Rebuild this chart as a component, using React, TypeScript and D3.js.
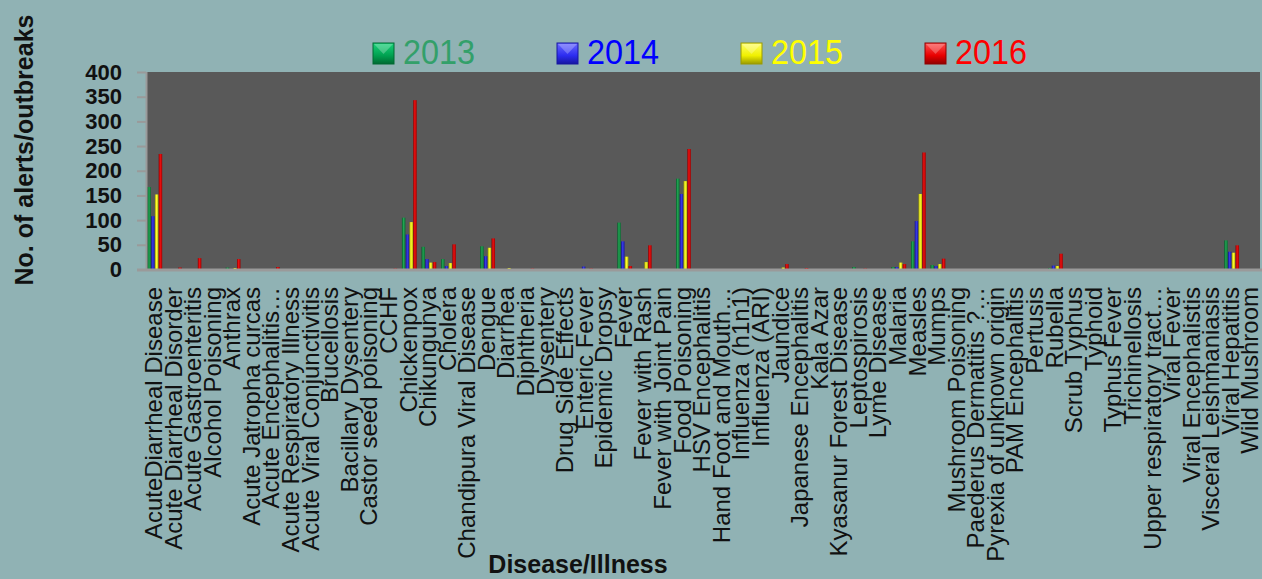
import React, { useEffect, useRef } from "react";
import * as d3 from "d3";

const categories: string[] = [
  "AcuteDiarrheal Disease",
  "Acute Diarrheal Disorder",
  "Acute Gastroenteritis",
  "Alcohol Poisoning",
  "Anthrax",
  "Acute Jatropha curcas",
  "Acute Encephalitis…",
  "Acute Respiratory Illness",
  "Acute Viral Conjunctivitis",
  "Brucellosis",
  "Bacillary Dysentery",
  "Castor seed poisoning",
  "CCHF",
  "Chickenpox",
  "Chikungunya",
  "Cholera",
  "Chandipura Viral Disease",
  "Dengue",
  "Diarrhea",
  "Diphtheria",
  "Dysentery",
  "Drug Side Effects",
  "Enteric Fever",
  "Epidemic Dropsy",
  "Fever",
  "Fever with Rash",
  "Fever  with Joint Pain",
  "Food Poisoning",
  "HSV Encephalitis",
  "Hand Foot and Mouth…",
  "Influenza (h1n1)",
  "Influenza (ARI)",
  "Jaundice",
  "Japanese Encephalitis",
  "Kala Azar",
  "Kyasanur Forest Disease",
  "Leptospirosis",
  "Lyme Disease",
  "Malaria",
  "Measles",
  "Mumps",
  "Mushroom Poisoning",
  "Paederus Dermatitis ?…",
  "Pyrexia of unknown origin",
  "PAM Encephalitis",
  "Pertusis",
  "Rubella",
  "Scrub Typhus",
  "Typhoid",
  "Typhus Fever",
  "Trichinellosis",
  "Upper respiratory tract…",
  "Viral Fever",
  "Viral Encephalistis",
  "Visceral Leishmaniasis",
  "Viral Hepatitis",
  "Wild Mushroom",
];

const years = ["2013", "2014", "2015", "2016"];

// values per category, same order as categories
const v2013 = [167, 0, 0, 0, 4, 0, 1, 0, 0, 0, 0, 0, 0, 105, 46, 21, 0, 47, 0, 0, 0, 0, 0, 0, 95, 0, 0, 184, 0, 0, 0, 0, 0, 0, 0, 0, 5, 0, 5, 57, 9, 0, 0, 0, 0, 0, 3, 0, 0, 0, 0, 0, 0, 0, 0, 59, 0];
const v2014 = [108, 0, 0, 0, 0, 0, 0, 0, 0, 0, 0, 0, 0, 71, 21, 7, 0, 27, 0, 0, 0, 0, 6, 0, 57, 0, 0, 153, 0, 0, 0, 0, 0, 0, 0, 1, 0, 0, 5, 98, 7, 0, 0, 0, 0, 0, 8, 0, 0, 0, 0, 0, 0, 0, 0, 36, 0];
const v2015 = [152, 0, 1, 0, 3, 0, 0, 0, 0, 0, 0, 0, 1, 96, 14, 13, 0, 44, 3, 0, 1, 0, 0, 0, 26, 15, 0, 179, 0, 0, 0, 0, 4, 0, 0, 0, 0, 0, 14, 153, 11, 1, 0, 0, 0, 0, 7, 0, 1, 0, 0, 0, 0, 0, 0, 34, 0];
const v2016 = [234, 4, 23, 0, 21, 0, 5, 0, 0, 0, 0, 0, 2, 343, 15, 51, 0, 63, 0, 2, 0, 0, 2, 0, 7, 49, 0, 244, 0, 0, 0, 0, 11, 3, 0, 0, 2, 0, 11, 237, 22, 0, 0, 0, 0, 0, 32, 0, 0, 0, 0, 0, 0, 0, 0, 49, 0];

const series = [v2013, v2014, v2015, v2016];
const yTicks = [0, 50, 100, 150, 200, 250, 300, 350, 400];

// bar shading: dark edge, bright middle, dark edge
const barShades = [
  ["#05592a", "#22a452", "#0b6b33"],
  ["#12128a", "#3a3ae6", "#1a1aa0"],
  ["#9a9a00", "#ffff30", "#b8b800"],
  ["#8a0000", "#ee1010", "#a00000"],
];
const legendFill = [
  ["#19d27a", "#00a050", "#006a32"],
  ["#6a6aff", "#2c2cf0", "#1616a0"],
  ["#ffff6a", "#f0f000", "#9a9a00"],
  ["#ff5050", "#e80000", "#900000"],
];
const legendText = ["#33a06a", "#0000ff", "#ffff00", "#ff0000"];

const W = 1262;
const H = 579;

const App: React.FC = () => {
  const svgRef = useRef<SVGSVGElement>(null);

  useEffect(() => {
    const svg = d3.select(svgRef.current);
    svg.selectAll("*").remove();

    const plot = { left: 147, right: 1260, top: 72, bottom: 269.5 };

    const x0 = d3
      .scaleBand<string>()
      .domain(categories)
      .range([145, 1261])
      .paddingInner(0.22)
      .paddingOuter(0.11);

    const x1 = d3
      .scaleBand<string>()
      .domain(years)
      .range([0, x0.bandwidth()])
      .padding(0.06);

    const y = d3
      .scaleLinear()
      .domain([0, 400])
      .range([plot.bottom, plot.top]);

    svg
      .append("rect")
      .attr("width", W)
      .attr("height", H)
      .attr("fill", "#90b2b4");

    const defs = svg.append("defs");
    barShades.forEach((c, i) => {
      const g = defs
        .append("linearGradient")
        .attr("id", "bar" + i)
        .attr("x1", 0)
        .attr("x2", 1)
        .attr("y1", 0)
        .attr("y2", 0);
      g.append("stop").attr("offset", "0%").attr("stop-color", c[0]);
      g.append("stop").attr("offset", "45%").attr("stop-color", c[1]);
      g.append("stop").attr("offset", "100%").attr("stop-color", c[2]);
    });
    legendFill.forEach((c, i) => {
      const g = defs
        .append("linearGradient")
        .attr("id", "leg" + i)
        .attr("x1", 0)
        .attr("x2", 0)
        .attr("y1", 0)
        .attr("y2", 1);
      g.append("stop").attr("offset", "0%").attr("stop-color", c[0]);
      g.append("stop").attr("offset", "60%").attr("stop-color", c[1]);
      g.append("stop").attr("offset", "100%").attr("stop-color", c[2]);
    });

    // plot area
    svg
      .append("rect")
      .attr("x", plot.left)
      .attr("y", plot.top)
      .attr("width", plot.right - plot.left)
      .attr("height", plot.bottom - plot.top)
      .attr("fill", "#595959");

    // bars
    const groups = svg
      .append("g")
      .selectAll("g")
      .data(categories)
      .enter()
      .append("g")
      .attr("transform", (d) => "translate(" + (x0(d) || 0) + ",0)");

    groups
      .selectAll("rect")
      .data((d, i) => series.map((s, k) => ({ year: years[k], k, value: s[i] })))
      .enter()
      .filter((d) => d.value > 0)
      .append("rect")
      .attr("x", (d) => x1(d.year) || 0)
      .attr("width", x1.bandwidth())
      .attr("y", (d) => y(d.value))
      .attr("height", (d) => y(0) - y(d.value))
      .attr("fill", (d) => "url(#bar" + d.k + ")");

    // y axis
    const yAxis = svg
      .append("g")
      .attr("transform", "translate(" + 146 + ",0)")
      .call(
        d3
          .axisLeft(y)
          .tickValues(yTicks)
          .tickSize(9)
          .tickPadding(15)
          .tickFormat(d3.format("d"))
      );
    yAxis.select(".domain").remove();
    yAxis.selectAll("line").attr("stroke", "#9a9a9a").attr("stroke-width", 2);
    yAxis
      .selectAll("text")
      .attr("fill", "#111")
      .style("font-family", "'Liberation Sans', Arial, sans-serif")
      .style("font-weight", "bold")
      .style("font-size", "22px");

    svg
      .append("line")
      .attr("x1", 146.5)
      .attr("x2", 146.5)
      .attr("y1", plot.top)
      .attr("y2", plot.bottom)
      .attr("stroke", "#9a9a9a")
      .attr("stroke-width", 2);
    svg
      .append("line")
      .attr("x1", 137)
      .attr("x2", W)
      .attr("y1", plot.bottom + 0.5)
      .attr("y2", plot.bottom + 0.5)
      .attr("stroke", "#9a9a9a")
      .attr("stroke-width", 3);

    // category labels
    svg
      .append("g")
      .selectAll("text")
      .data(categories)
      .enter()
      .append("text")
      .attr(
        "transform",
        (d) =>
          "translate(" + ((x0(d) || 0) + x0.bandwidth() / 2) + ",287) rotate(-90)"
      )
      .attr("dy", "0.3em")
      .attr("text-anchor", "end")
      .attr("fill", "#111")
      .style("font-family", "'Liberation Sans', Arial, sans-serif")
      .style("font-size", "24px")
      .text((d) => d);

    // axis titles
    svg
      .append("text")
      .attr("transform", "translate(33,150) rotate(-90)")
      .attr("text-anchor", "middle")
      .attr("fill", "#111")
      .style("font-family", "'Liberation Sans', Arial, sans-serif")
      .style("font-weight", "bold")
      .style("font-size", "25px")
      .text("No. of alerts/outbreaks");

    svg
      .append("text")
      .attr("x", 578)
      .attr("y", 573)
      .attr("text-anchor", "middle")
      .attr("fill", "#111")
      .style("font-family", "'Liberation Sans', Arial, sans-serif")
      .style("font-weight", "bold")
      .style("font-size", "25px")
      .text("Disease/Illness");

    // legend
    const legend = svg
      .append("g")
      .selectAll("g")
      .data(years)
      .enter()
      .append("g")
      .attr("transform", (d, i) => "translate(" + (373 + i * 184) + ",43)");

    legend
      .append("rect")
      .attr("width", 21)
      .attr("height", 21)
      .attr("fill", (d, i) => "url(#leg" + i + ")")
      .attr("stroke", (d, i) => legendFill[i][2])
      .attr("stroke-width", 1);
    legend
      .append("path")
      .attr("d", "M1,1 L20,1 L10.5,11 Z")
      .attr("fill", "#ffffff")
      .attr("opacity", 0.25);

    legend
      .append("text")
      .attr("transform", "translate(30,20.5) scale(0.9,1)")
      .attr("fill", (d, i) => legendText[i])
      .style("font-family", "'Liberation Sans', Arial, sans-serif")
      .style("font-size", "36px")
      .text((d) => d);
  }, []);

  return (
    <svg
      ref={svgRef}
      width={W}
      height={H}
      style={{ position: "absolute", left: 0, top: 0, display: "block" }}
    ></svg>
  );
};

export default App;
